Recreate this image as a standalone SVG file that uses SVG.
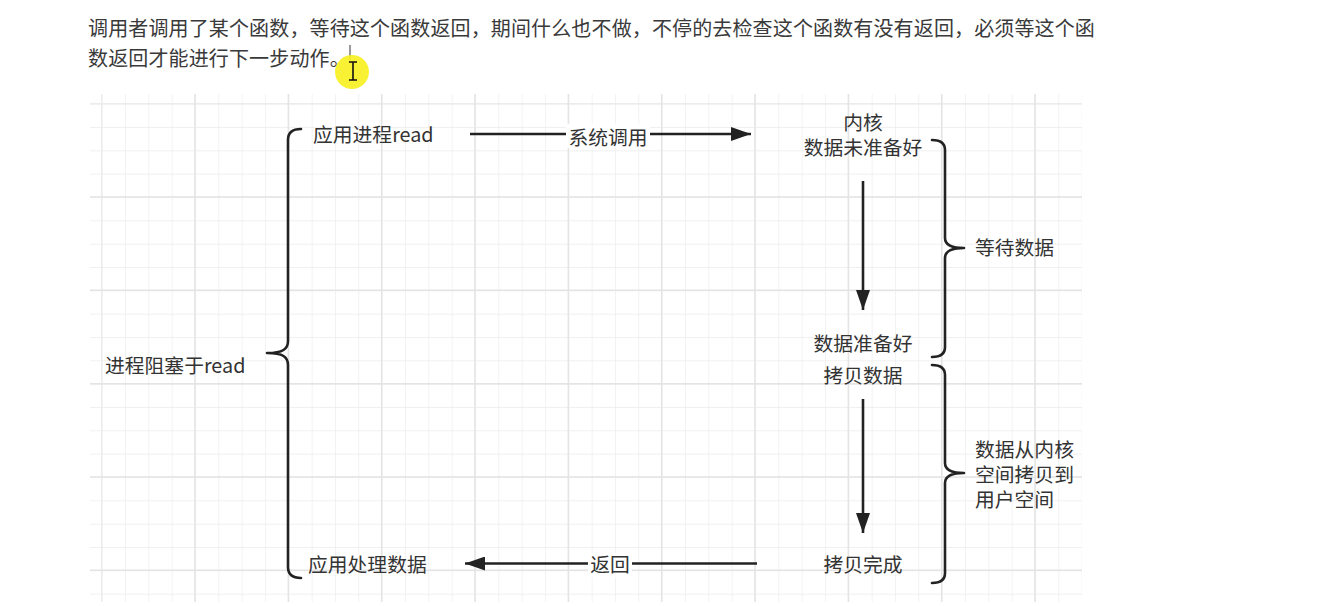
<svg xmlns="http://www.w3.org/2000/svg" width="1330" height="606" viewBox="0 0 1330 606">
<style>
.t{font-family:'Noto Sans CJK SC','Noto Sans',sans-serif;fill:#333;}
.p{font-size:20px;fill:#3a3a3a;letter-spacing:0.14px;}
.d{font-size:19.8px;}
.mid{text-anchor:middle;}
.g{stroke:#ececec;stroke-width:1.3;fill:none;}
.gm{stroke:#e4e4e4;stroke-width:1.5;fill:none;}
.br{fill:none;stroke:#222;stroke-width:2.6;stroke-linecap:round;stroke-linejoin:round;}
.cn{fill:none;stroke:#222;stroke-width:2.6;}
.lb{fill:#fff;}
</style>
<defs>
<marker id="ah" markerWidth="20" markerHeight="14" refX="20" refY="7" orient="auto" markerUnits="userSpaceOnUse">
<path d="M0,0 L20,7 L0,14 Z" fill="#222"/>
</marker>
<pattern id="gridMinor" x="101.67" y="103.67" width="23.333" height="23.333" patternUnits="userSpaceOnUse">
<path d="M0,0 V23.333 M0,0 H23.333" class="g"/>
</pattern>
</defs>
<rect width="1330" height="606" fill="#fff"/>

<!-- top paragraph -->
<g id="paragraph">
<text class="t p" x="88" y="35.5">调用者调用了某个函数，等待这个函数返回，期间什么也不做，不停的去检查这个函数有没有返回，必须等这个函</text>
<text class="t p" x="88" y="65.5">数返回才能进行下一步动作。</text>
</g>

<!-- grid -->
<g id="grid">
<rect x="90" y="94" width="992" height="508" fill="url(#gridMinor)"/>
<path class="g" d="M90,103.67 H1082 M101.67,94 V602"/>
<path class="gm" d="M195,94 V602 M288.33,94 V602 M381.67,94 V602 M475,94 V602 M568.33,94 V602 M661.67,94 V602 M755,94 V602 M848.33,94 V602 M941.67,94 V602 M1035,94 V602"/>
<path class="gm" d="M90,197 H1082 M90,290.33 H1082 M90,383.67 H1082 M90,477 H1082 M90,570.33 H1082"/>
<rect x="1082.5" y="90" width="20" height="516" fill="#fff"/>
</g>

<!-- cursor highlight -->
<g id="cursor">
<line x1="350" y1="45" x2="350" y2="60" stroke="#555" stroke-width="1.2"/>
<circle cx="352" cy="72" r="17" fill="#f7f01e" fill-opacity="0.9"/>
<path d="M349,62 H357 M353,62 V80 M349,80 H357" stroke="#111" stroke-width="1.6" fill="none"/>
</g>

<!-- braces -->
<g id="brace-left">
<path class="br" d="M301,129 C293,129 288,132 288,140 L288,341 C288,349 283,353 267,353 C283,353 288,357 288,365 L288,567 C288,575 293,578 301,578"/>
</g>
<g id="brace-wait">
<path class="br" d="M932,140 C940,140 945,143 945,150 L945,238 C945,244 950,248 964,248 C950,248 945,252 945,258 L945,347 C945,354 940,357 932,357"/>
</g>
<g id="brace-copy">
<path class="br" d="M932,365 C940,365 945,368 945,375 L945,463 C945,469 950,473 964,473 C950,473 945,477 945,483 L945,573 C945,580 940,583 932,583"/>
</g>

<!-- nodes -->
<g id="node-app-read"><text class="t d" x="313" y="142">应用进程read</text></g>
<g id="node-kernel-not-ready">
<text class="t d mid" x="863" y="130">内核<tspan x="863" dy="25">数据未准备好</tspan></text>
</g>
<g id="node-data-ready"><text class="t d mid" x="863" y="351">数据准备好</text></g>
<g id="node-copy-data"><text class="t d mid" x="863" y="383">拷贝数据</text></g>
<g id="node-copy-done"><text class="t d mid" x="863" y="572">拷贝完成</text></g>
<g id="node-app-process"><text class="t d" x="308" y="572">应用处理数据</text></g>
<g id="node-blocked"><text class="t d" x="105" y="373">进程阻塞于read</text></g>
<g id="node-wait-data"><text class="t d" x="975" y="255">等待数据</text></g>
<g id="node-copy-to-user">
<text class="t d" x="975" y="457">数据从内核<tspan x="975" dy="25">空间拷贝到</tspan><tspan x="975" dy="25">用户空间</tspan></text>
</g>

<!-- connectors -->
<g id="connectors">
<line class="cn" x1="470" y1="134" x2="751" y2="134" marker-end="url(#ah)"/>
<rect class="lb" x="566" y="124" width="84" height="24"/>
<text class="t d mid" x="608" y="145">系统调用</text>
<line class="cn" x1="863" y1="181" x2="863" y2="310" marker-end="url(#ah)"/>
<line class="cn" x1="863" y1="399" x2="863" y2="533" marker-end="url(#ah)"/>
<line class="cn" x1="757" y1="563.5" x2="465" y2="563.5" marker-end="url(#ah)"/>
<rect class="lb" x="588" y="553" width="44" height="24"/>
<text class="t d mid" x="610" y="572">返回</text>
</g>
</svg>
